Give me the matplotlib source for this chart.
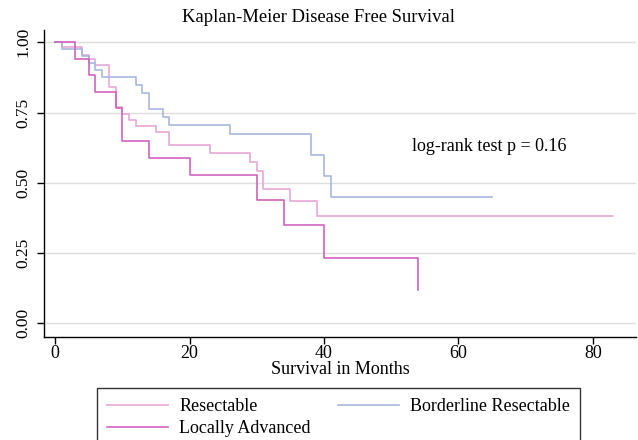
import numpy as np
import matplotlib
matplotlib.use("Agg")
import matplotlib.pyplot as plt
from matplotlib.lines import Line2D

plt.rcParams['font.family'] = ['Liberation Serif', 'DejaVu Serif']

# Kaplan-Meier step data (months, survival)
resect_t = [0, 1, 4, 5, 6, 8, 9, 10, 11, 12, 15, 17, 23, 29, 30, 31, 35, 39, 83]
resect_s = [1.0, 0.985, 0.955, 0.94, 0.921, 0.840, 0.768, 0.746, 0.725, 0.703,
            0.682, 0.635, 0.606, 0.574, 0.542, 0.479, 0.435, 0.381, 0.381]

border_t = [0, 1, 4, 5, 6, 7, 12, 13, 14, 16, 17, 26, 38, 40, 41, 65]
border_s = [1.0, 0.977, 0.951, 0.927, 0.901, 0.875, 0.848, 0.820, 0.763, 0.735,
            0.706, 0.672, 0.598, 0.525, 0.449, 0.449]

locadv_t = [0, 3, 5, 6, 9, 10, 14, 20, 30, 34, 40, 54]
locadv_s = [1.0, 0.941, 0.882, 0.824, 0.765, 0.647, 0.588, 0.526, 0.437, 0.350,
            0.233, 0.117]

labels = ["Resectable", "Borderline Resectable", "Locally Advanced"]
colors = ["#e8a8d8", "#a8b8e0", "#d163bf"]

x_ticks = [0, 20, 40, 60, 80]
y_ticks = [0.0, 0.25, 0.5, 0.75, 1.0]

W, H = 638, 440
fig = plt.figure(figsize=(W / 100, H / 100), dpi=100)
ax = fig.add_axes([44 / W, (H - 337) / H, 592 / W, (337 - 30) / H])

for y in y_ticks:
    ax.axhline(y, color="#dddddd", lw=1.0, zorder=0)

series = [(resect_t, resect_s), (border_t, border_s), (locadv_t, locadv_s)]
order = [1, 0, 2]  # blue underneath, magenta on top
for i in order:
    t, s = series[i]
    ax.step(t, s, where="post", color=colors[i], lw=1.2, zorder=2 + i)

ax.set_xlim(-1.64, 86.4)
ax.set_ylim(-0.05, 1.044)

ax.set_xticks(x_ticks)
ax.set_xticklabels([str(v) for v in x_ticks], fontsize=13)
ax.set_yticks(y_ticks)
ax.set_yticklabels([f"{v:.2f}" for v in y_ticks], fontsize=12.5, rotation=90,
                   va="center")
ax.tick_params(axis="both", length=5, width=1, color="black")
ax.tick_params(axis="x", pad=1)
ax.tick_params(axis="y", pad=4)

for side in ["top", "right"]:
    ax.spines[side].set_visible(False)
for side in ["left", "bottom"]:
    ax.spines[side].set_linewidth(1.0)

ax.set_xlabel("Survival in Months", fontsize=13, labelpad=-1)
fig.text(0.5, 1 - 18 / H, "Kaplan-Meier Disease Free Survival",
         fontsize=13.4, ha="center", va="center")

ax.text(53.1, 0.63, "log-rank test p = 0.16", fontsize=13, ha="left",
        va="center")

# legend fills column-wise -> reorder so rows read Resectable | Borderline, Locally Advanced
leg_handles = [Line2D([], [], color=colors[0], lw=1.2),
               Line2D([], [], color=colors[2], lw=1.2),
               Line2D([], [], color=colors[1], lw=1.2)]
leg_labels = [labels[0], labels[2], labels[1]]
leg = fig.legend(leg_handles, leg_labels, ncol=2, fontsize=13,
                 loc="upper left", bbox_to_anchor=(97 / W, 1 - 388 / H),
                 frameon=True, fancybox=False, edgecolor="black",
                 handlelength=3.4, handletextpad=0.6, columnspacing=1.5,
                 borderpad=0.55, labelspacing=0.3, borderaxespad=0)
leg.get_frame().set_linewidth(1.0)

fig.savefig("out.png", dpi=100)
